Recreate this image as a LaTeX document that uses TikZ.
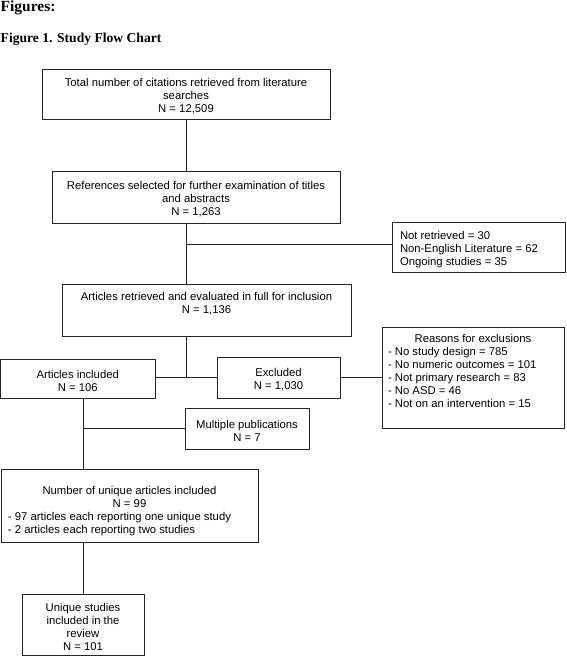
\documentclass[tikz,border=0pt]{standalone}
\usepackage{fontspec}
\setmainfont{Liberation Sans}
\newfontfamily\titlefont{Liberation Serif}
\usetikzlibrary{calc}
\newcommand{\bx}[4]{\parbox[c][#2][#3]{#1}{\parskip=0pt #4}}
\newcommand{\dn}{\vspace*{5pt}}
\begin{document}
\begin{tikzpicture}[x=1pt,y=-1pt,
  box/.style={draw=black!85, line width=0.8pt, inner sep=0pt, outer sep=0pt, anchor=north west, font=\fontsize{11.3}{13}\selectfont},
  conn/.style={draw=black!85, line width=0.8pt},
  ttl/.style={anchor=base west, inner sep=0pt}]
\useasboundingbox (0,0) rectangle (567,656);
\node[ttl, font=\titlefont\bfseries\fontsize{15.5}{18}\selectfont] (T1) at (0.5,11.5) {Figures:};
\node[ttl, font=\titlefont\bfseries\fontsize{13.6}{16}\selectfont] (T2) at (0.5,42.7) {Figure 1. Study Flow Chart};

\node[box] (B1) at (42,69) {\bx{288pt}{50pt}{c}{\dn\centering Total number of citations retrieved from literature\\ searches\\ N = 12,509}};
\node[box] (B2) at (52,171) {\bx{288pt}{52pt}{c}{\dn\centering References selected for further examination of titles\\ and abstracts\\ N = 1,263}};
\node[box] (R1) at (392,222) {\bx{173pt}{50pt}{c}{\dn\leftskip=8pt Not retrieved = 30\\ Non-English Literature = 62\\ Ongoing studies = 35}};
\node[box] (B3) at (62,284) {\bx{289pt}{52pt}{t}{\centering\rule{0pt}{16pt}Articles retrieved and evaluated in full for inclusion\\ N = 1,136}};
\node[box] (Inc) at (0.5,359) {\bx{154.5pt}{39pt}{c}{\dn\centering Articles included\\ N = 106}};
\node[box] (Exc) at (217,357) {\bx{123pt}{41pt}{c}{\dn\centering Excluded\\ N = 1,030}};
\node[box] (R2) at (382,327) {\bx{182pt}{101pt}{t}{{\centering\rule{0pt}{15pt}Reasons for exclusions\par}{\leftskip=6pt - No study design = 785\\ - No numeric outcomes = 101\\ - Not primary research = 83\\ - No ASD = 46\\ - Not on an intervention = 15\par}}};
\node[box] (MP) at (185,408) {\bx{124pt}{41pt}{c}{\dn\centering Multiple publications\\ N = 7}};
\node[box] (B4) at (1,469) {\bx{257pt}{73pt}{t}{{\centering\rule{0pt}{25pt}Number of unique articles included\\ N = 99\par}{\leftskip=7pt - 97 articles each reporting one unique study\\ - 2 articles each reporting two studies\par}}};
\node[box] (B5) at (22,594) {\bx{122pt}{61pt}{c}{\dn\centering Unique studies\\ included in the\\ review\\ N = 101}};

\coordinate (j1) at (186,244);
\coordinate (j2) at (186,377.5);
\coordinate (j3) at (83,428);
\draw[conn] (B1.south) -- (B1.south |- B2.north);
\draw[conn] (B1.south |- B2.south) -- (B1.south |- B3.north);
\draw[conn] (j1) -- (j1 -| R1.west);
\draw[conn] (B1.south |- B3.south) -- (j2);
\draw[conn] (j2 -| Inc.east) -- (j2 -| Exc.west);
\draw[conn] (j2 -| Exc.east) -- (j2 -| R2.west);
\draw[conn] (j3 |- Inc.south) -- (j3 |- B4.north);
\draw[conn] (j3) -- (j3 -| MP.west);
\draw[conn] (B5.north |- B4.south) -- (B5.north);
\end{tikzpicture}
\end{document}
